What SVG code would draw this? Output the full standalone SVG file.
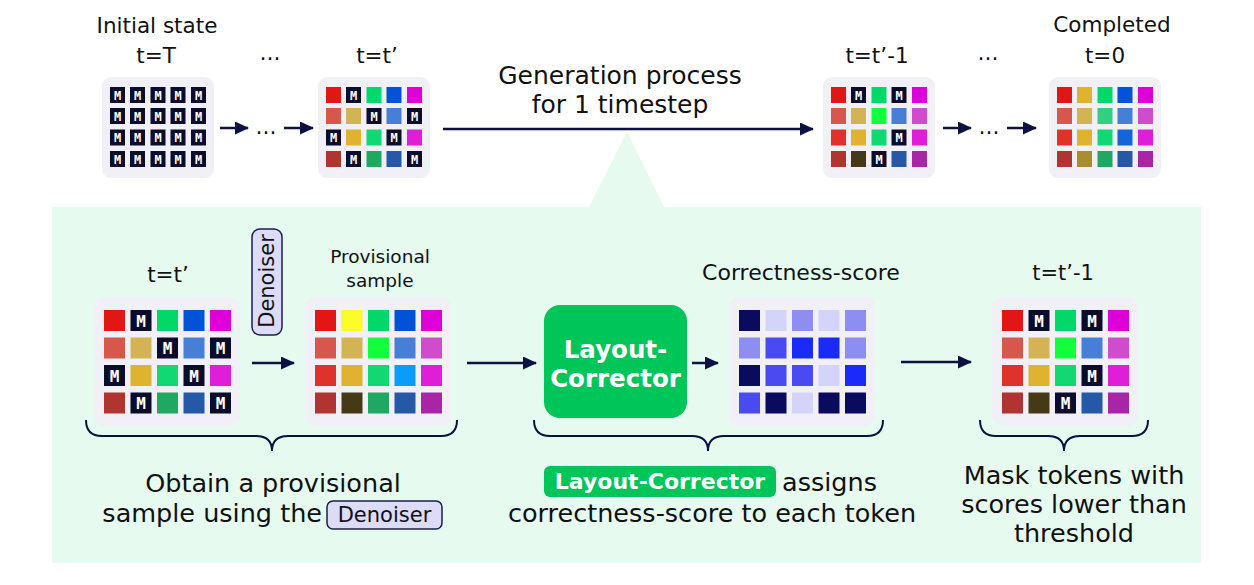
<svg xmlns="http://www.w3.org/2000/svg" width="1254" height="585" viewBox="0 0 1254 585">
<defs>
<marker id="ah" markerUnits="userSpaceOnUse" markerWidth="14" markerHeight="13" viewBox="0 0 14 13" refX="13" refY="6.5" orient="auto">
<path d="M0,0 L14,6.5 L0,13 z" fill="#0d1140"/>
</marker>
<style>
.t{font-family:"DejaVu Sans","Liberation Sans",sans-serif;fill:#111}
.tb{font-family:"DejaVu Sans","Liberation Sans",sans-serif;font-weight:bold;fill:#fff;text-anchor:middle}
.card{fill:#f0f0f6}
.k{fill:#0b0b2b}
.mt{font-family:"DejaVu Sans Mono","Liberation Mono",monospace;font-weight:bold;font-size:12px;fill:#fff;text-anchor:middle}
.mb{font-family:"DejaVu Sans Mono","Liberation Mono",monospace;font-weight:bold;font-size:16px;fill:#fff;text-anchor:middle}
.a1{fill:#e31616}.a2{fill:#e0b22e}.a3{fill:#00d86a}.a4{fill:#0052d6}.a5{fill:#de00d8}
.b1{fill:#d6574b}.b2{fill:#d4b355}.b3{fill:#33cf80}.b3x{fill:#12ff3c}.b4{fill:#477ed6}.b5{fill:#d04ccc}
.c1{fill:#df322a}.c2{fill:#dfb330}.c3{fill:#12d873}.c4{fill:#1565d8}.c4x{fill:#0a9cf8}.c5{fill:#df1fd8}
.d1{fill:#b03430}.d2{fill:#a88e30}.d2x{fill:#463a16}.d3{fill:#1fa862}.d4{fill:#2558a6}.d5{fill:#a826a6}
.yl{fill:#fcfc2a}
.s0{fill:#0a0a5e}.s1{fill:#d4d4fa}.s2{fill:#8e8ef2}.s3{fill:#4a4af2}.s4{fill:#1a2af8}
.ln{stroke:#0d1140;stroke-width:2.5;fill:none}
.br{stroke:#0d1140;stroke-width:2;fill:none}
.d{font-size:25.5px}
</style>
</defs>
<rect width="1254" height="585" fill="#fff"/>

<!-- green panel -->
<g id="panel">
<rect x="52" y="207" width="1149" height="356" fill="#e6faf0"/>
<polygon points="627,132 589,207 664,207" fill="#e6faf0"/>
</g>

<!-- top labels -->
<g id="top-labels">
<text class="t" x="157" y="33" font-size="21.5" text-anchor="middle">Initial state</text>
<text class="t" x="156" y="63" font-size="21.5" text-anchor="middle">t=T</text>
<text class="t" x="270" y="60" font-size="21" text-anchor="middle">…</text>
<text class="t" x="377" y="63" font-size="21.5" text-anchor="middle">t=t’</text>
<text class="t" x="620" y="84" font-size="25" text-anchor="middle">Generation process</text>
<text class="t" x="620" y="113" font-size="25" text-anchor="middle">for 1 timestep</text>
<text class="t" x="877" y="63" font-size="21.5" text-anchor="middle">t=t’-1</text>
<text class="t" x="988" y="60" font-size="21" text-anchor="middle">…</text>
<text class="t" x="1112" y="32" font-size="21.5" text-anchor="middle">Completed</text>
<text class="t" x="1105" y="63" font-size="21.5" text-anchor="middle">t=0</text>
</g>

<!-- top grid: initial state -->
<g id="grid-initial" transform="translate(102,77)">
<rect class="card" width="112" height="101" rx="9"/>
<rect class="k" x="8" y="10" width="15" height="16"/><text class="mt" x="15.5" y="22.5">M</text>
<rect class="k" x="28" y="10" width="15" height="16"/><text class="mt" x="35.5" y="22.5">M</text>
<rect class="k" x="48.5" y="10" width="15" height="16"/><text class="mt" x="56" y="22.5">M</text>
<rect class="k" x="68.5" y="10" width="15" height="16"/><text class="mt" x="76" y="22.5">M</text>
<rect class="k" x="89" y="10" width="15" height="16"/><text class="mt" x="96.5" y="22.5">M</text>
<rect class="k" x="8" y="31" width="15" height="16"/><text class="mt" x="15.5" y="43.5">M</text>
<rect class="k" x="28" y="31" width="15" height="16"/><text class="mt" x="35.5" y="43.5">M</text>
<rect class="k" x="48.5" y="31" width="15" height="16"/><text class="mt" x="56" y="43.5">M</text>
<rect class="k" x="68.5" y="31" width="15" height="16"/><text class="mt" x="76" y="43.5">M</text>
<rect class="k" x="89" y="31" width="15" height="16"/><text class="mt" x="96.5" y="43.5">M</text>
<rect class="k" x="8" y="52.5" width="15" height="16"/><text class="mt" x="15.5" y="65">M</text>
<rect class="k" x="28" y="52.5" width="15" height="16"/><text class="mt" x="35.5" y="65">M</text>
<rect class="k" x="48.5" y="52.5" width="15" height="16"/><text class="mt" x="56" y="65">M</text>
<rect class="k" x="68.5" y="52.5" width="15" height="16"/><text class="mt" x="76" y="65">M</text>
<rect class="k" x="89" y="52.5" width="15" height="16"/><text class="mt" x="96.5" y="65">M</text>
<rect class="k" x="8" y="74" width="15" height="16"/><text class="mt" x="15.5" y="86.5">M</text>
<rect class="k" x="28" y="74" width="15" height="16"/><text class="mt" x="35.5" y="86.5">M</text>
<rect class="k" x="48.5" y="74" width="15" height="16"/><text class="mt" x="56" y="86.5">M</text>
<rect class="k" x="68.5" y="74" width="15" height="16"/><text class="mt" x="76" y="86.5">M</text>
<rect class="k" x="89" y="74" width="15" height="16"/><text class="mt" x="96.5" y="86.5">M</text>
</g>

<!-- top grid: t=t' -->
<g id="grid-top-tprime" transform="translate(318,77)">
<rect class="card" width="112" height="101" rx="9"/>
<rect class="a1" x="8" y="10" width="15" height="16"/>
<rect class="k" x="28" y="10" width="15" height="16"/><text class="mt" x="35.5" y="22.5">M</text>
<rect class="a3" x="48.5" y="10" width="15" height="16"/>
<rect class="a4" x="68.5" y="10" width="15" height="16"/>
<rect class="a5" x="89" y="10" width="15" height="16"/>
<rect class="b1" x="8" y="31" width="15" height="16"/>
<rect class="b2" x="28" y="31" width="15" height="16"/>
<rect class="k" x="48.5" y="31" width="15" height="16"/><text class="mt" x="56" y="43.5">M</text>
<rect class="b4" x="68.5" y="31" width="15" height="16"/>
<rect class="k" x="89" y="31" width="15" height="16"/><text class="mt" x="96.5" y="43.5">M</text>
<rect class="k" x="8" y="52.5" width="15" height="16"/><text class="mt" x="15.5" y="65">M</text>
<rect class="c2" x="28" y="52.5" width="15" height="16"/>
<rect class="c3" x="48.5" y="52.5" width="15" height="16"/>
<rect class="k" x="68.5" y="52.5" width="15" height="16"/><text class="mt" x="76" y="65">M</text>
<rect class="c5" x="89" y="52.5" width="15" height="16"/>
<rect class="d1" x="8" y="74" width="15" height="16"/>
<rect class="k" x="28" y="74" width="15" height="16"/><text class="mt" x="35.5" y="86.5">M</text>
<rect class="d3" x="48.5" y="74" width="15" height="16"/>
<rect class="d4" x="68.5" y="74" width="15" height="16"/>
<rect class="k" x="89" y="74" width="15" height="16"/><text class="mt" x="96.5" y="86.5">M</text>
</g>

<!-- top grid: t=t'-1 -->
<g id="grid-top-tprime-1" transform="translate(823,77)">
<rect class="card" width="112" height="101" rx="9"/>
<rect class="a1" x="8" y="10" width="15" height="16"/>
<rect class="k" x="28" y="10" width="15" height="16"/><text class="mt" x="35.5" y="22.5">M</text>
<rect class="a3" x="48.5" y="10" width="15" height="16"/>
<rect class="k" x="68.5" y="10" width="15" height="16"/><text class="mt" x="76" y="22.5">M</text>
<rect class="a5" x="89" y="10" width="15" height="16"/>
<rect class="b1" x="8" y="31" width="15" height="16"/>
<rect class="b2" x="28" y="31" width="15" height="16"/>
<rect class="b3x" x="48.5" y="31" width="15" height="16"/>
<rect class="b4" x="68.5" y="31" width="15" height="16"/>
<rect class="b5" x="89" y="31" width="15" height="16"/>
<rect class="c1" x="8" y="52.5" width="15" height="16"/>
<rect class="c2" x="28" y="52.5" width="15" height="16"/>
<rect class="c3" x="48.5" y="52.5" width="15" height="16"/>
<rect class="k" x="68.5" y="52.5" width="15" height="16"/><text class="mt" x="76" y="65">M</text>
<rect class="c5" x="89" y="52.5" width="15" height="16"/>
<rect class="d1" x="8" y="74" width="15" height="16"/>
<rect class="d2x" x="28" y="74" width="15" height="16"/>
<rect class="k" x="48.5" y="74" width="15" height="16"/><text class="mt" x="56" y="86.5">M</text>
<rect class="d4" x="68.5" y="74" width="15" height="16"/>
<rect class="d5" x="89" y="74" width="15" height="16"/>
</g>

<!-- top grid: completed -->
<g id="grid-completed" transform="translate(1049,77)">
<rect class="card" width="112" height="101" rx="9"/>
<rect class="a1" x="8" y="10" width="15" height="16"/>
<rect class="a2" x="28" y="10" width="15" height="16"/>
<rect class="a3" x="48.5" y="10" width="15" height="16"/>
<rect class="a4" x="68.5" y="10" width="15" height="16"/>
<rect class="a5" x="89" y="10" width="15" height="16"/>
<rect class="b1" x="8" y="31" width="15" height="16"/>
<rect class="b2" x="28" y="31" width="15" height="16"/>
<rect class="b3" x="48.5" y="31" width="15" height="16"/>
<rect class="b4" x="68.5" y="31" width="15" height="16"/>
<rect class="b5" x="89" y="31" width="15" height="16"/>
<rect class="c1" x="8" y="52.5" width="15" height="16"/>
<rect class="c2" x="28" y="52.5" width="15" height="16"/>
<rect class="c3" x="48.5" y="52.5" width="15" height="16"/>
<rect class="c4" x="68.5" y="52.5" width="15" height="16"/>
<rect class="c5" x="89" y="52.5" width="15" height="16"/>
<rect class="d1" x="8" y="74" width="15" height="16"/>
<rect class="d2" x="28" y="74" width="15" height="16"/>
<rect class="d3" x="48.5" y="74" width="15" height="16"/>
<rect class="d4" x="68.5" y="74" width="15" height="16"/>
<rect class="d5" x="89" y="74" width="15" height="16"/>
</g>

<!-- bottom labels -->
<g id="bottom-labels">
<text class="t" x="168" y="282" font-size="21.5" text-anchor="middle">t=t’</text>
<text class="t" x="380" y="263" font-size="18.5" text-anchor="middle">Provisional</text>
<text class="t" x="380" y="287" font-size="18.5" text-anchor="middle">sample</text>
<text class="t" x="801" y="280" font-size="22" text-anchor="middle">Correctness-score</text>
<text class="t" x="1063" y="280" font-size="21" text-anchor="middle">t=t’-1</text>
</g>

<!-- denoiser tag -->
<g id="denoiser-tag">
<rect x="252" y="229" width="30" height="106" rx="8" fill="#dcdcf8" stroke="#1a1f4a" stroke-width="1.5"/>
<text class="t" transform="translate(267,281) rotate(-90)" font-size="21" text-anchor="middle" dominant-baseline="central">Denoiser</text>
</g>

<!-- bottom grid: t=t' -->
<g id="grid-bottom-tprime" transform="translate(94,297)">
<rect class="card" width="146" height="129" rx="10"/>
<rect class="a1" x="10" y="13" width="21" height="21"/>
<rect class="k" x="36.5" y="13" width="21" height="21"/><text class="mb" x="47" y="29.5">M</text>
<rect class="a3" x="63" y="13" width="21" height="21"/>
<rect class="a4" x="89.5" y="13" width="21" height="21"/>
<rect class="a5" x="116" y="13" width="21" height="21"/>
<rect class="b1" x="10" y="40.5" width="21" height="21"/>
<rect class="b2" x="36.5" y="40.5" width="21" height="21"/>
<rect class="k" x="63" y="40.5" width="21" height="21"/><text class="mb" x="73.5" y="57">M</text>
<rect class="b4" x="89.5" y="40.5" width="21" height="21"/>
<rect class="k" x="116" y="40.5" width="21" height="21"/><text class="mb" x="126.5" y="57">M</text>
<rect class="k" x="10" y="68" width="21" height="21"/><text class="mb" x="20.5" y="84.5">M</text>
<rect class="c2" x="36.5" y="68" width="21" height="21"/>
<rect class="c3" x="63" y="68" width="21" height="21"/>
<rect class="k" x="89.5" y="68" width="21" height="21"/><text class="mb" x="100" y="84.5">M</text>
<rect class="c5" x="116" y="68" width="21" height="21"/>
<rect class="d1" x="10" y="95.5" width="21" height="21"/>
<rect class="k" x="36.5" y="95.5" width="21" height="21"/><text class="mb" x="47" y="112">M</text>
<rect class="d3" x="63" y="95.5" width="21" height="21"/>
<rect class="d4" x="89.5" y="95.5" width="21" height="21"/>
<rect class="k" x="116" y="95.5" width="21" height="21"/><text class="mb" x="126.5" y="112">M</text>
</g>

<!-- bottom grid: provisional sample -->
<g id="grid-provisional" transform="translate(305,297)">
<rect class="card" width="146" height="129" rx="10"/>
<rect class="a1" x="10" y="13" width="21" height="21"/>
<rect class="yl" x="36.5" y="13" width="21" height="21"/>
<rect class="a3" x="63" y="13" width="21" height="21"/>
<rect class="a4" x="89.5" y="13" width="21" height="21"/>
<rect class="a5" x="116" y="13" width="21" height="21"/>
<rect class="b1" x="10" y="40.5" width="21" height="21"/>
<rect class="b2" x="36.5" y="40.5" width="21" height="21"/>
<rect class="b3x" x="63" y="40.5" width="21" height="21"/>
<rect class="b4" x="89.5" y="40.5" width="21" height="21"/>
<rect class="b5" x="116" y="40.5" width="21" height="21"/>
<rect class="c1" x="10" y="68" width="21" height="21"/>
<rect class="c2" x="36.5" y="68" width="21" height="21"/>
<rect class="c3" x="63" y="68" width="21" height="21"/>
<rect class="c4x" x="89.5" y="68" width="21" height="21"/>
<rect class="c5" x="116" y="68" width="21" height="21"/>
<rect class="d1" x="10" y="95.5" width="21" height="21"/>
<rect class="d2x" x="36.5" y="95.5" width="21" height="21"/>
<rect class="d3" x="63" y="95.5" width="21" height="21"/>
<rect class="d4" x="89.5" y="95.5" width="21" height="21"/>
<rect class="d5" x="116" y="95.5" width="21" height="21"/>
</g>

<!-- layout corrector -->
<g id="layout-corrector">
<rect x="544" y="305" width="143" height="113" rx="16" fill="#00c65a"/>
<text class="tb" x="615.5" y="358" font-size="24.5">Layout-</text>
<text class="tb" x="615.5" y="387" font-size="24.5">Corrector</text>
</g>

<!-- score grid -->
<g id="grid-score" transform="translate(729,297)">
<rect class="card" width="146" height="129" rx="10"/>
<rect class="s0" x="10" y="13" width="21" height="21"/>
<rect class="s1" x="36.5" y="13" width="21" height="21"/>
<rect class="s2" x="63" y="13" width="21" height="21"/>
<rect class="s1" x="89.5" y="13" width="21" height="21"/>
<rect class="s2" x="116" y="13" width="21" height="21"/>
<rect class="s2" x="10" y="40.5" width="21" height="21"/>
<rect class="s3" x="36.5" y="40.5" width="21" height="21"/>
<rect class="s4" x="63" y="40.5" width="21" height="21"/>
<rect class="s4" x="89.5" y="40.5" width="21" height="21"/>
<rect class="s2" x="116" y="40.5" width="21" height="21"/>
<rect class="s0" x="10" y="68" width="21" height="21"/>
<rect class="s3" x="36.5" y="68" width="21" height="21"/>
<rect class="s3" x="63" y="68" width="21" height="21"/>
<rect class="s1" x="89.5" y="68" width="21" height="21"/>
<rect class="s4" x="116" y="68" width="21" height="21"/>
<rect class="s3" x="10" y="95.5" width="21" height="21"/>
<rect class="s0" x="36.5" y="95.5" width="21" height="21"/>
<rect class="s1" x="63" y="95.5" width="21" height="21"/>
<rect class="s0" x="89.5" y="95.5" width="21" height="21"/>
<rect class="s0" x="116" y="95.5" width="21" height="21"/>
</g>

<!-- bottom grid: t=t'-1 -->
<g id="grid-bottom-tprime-1" transform="translate(992,297)">
<rect class="card" width="146" height="129" rx="10"/>
<rect class="a1" x="10" y="13" width="21" height="21"/>
<rect class="k" x="36.5" y="13" width="21" height="21"/><text class="mb" x="47" y="29.5">M</text>
<rect class="a3" x="63" y="13" width="21" height="21"/>
<rect class="k" x="89.5" y="13" width="21" height="21"/><text class="mb" x="100" y="29.5">M</text>
<rect class="a5" x="116" y="13" width="21" height="21"/>
<rect class="b1" x="10" y="40.5" width="21" height="21"/>
<rect class="b2" x="36.5" y="40.5" width="21" height="21"/>
<rect class="b3x" x="63" y="40.5" width="21" height="21"/>
<rect class="b4" x="89.5" y="40.5" width="21" height="21"/>
<rect class="b5" x="116" y="40.5" width="21" height="21"/>
<rect class="c1" x="10" y="68" width="21" height="21"/>
<rect class="c2" x="36.5" y="68" width="21" height="21"/>
<rect class="c3" x="63" y="68" width="21" height="21"/>
<rect class="k" x="89.5" y="68" width="21" height="21"/><text class="mb" x="100" y="84.5">M</text>
<rect class="c5" x="116" y="68" width="21" height="21"/>
<rect class="d1" x="10" y="95.5" width="21" height="21"/>
<rect class="d2x" x="36.5" y="95.5" width="21" height="21"/>
<rect class="k" x="63" y="95.5" width="21" height="21"/><text class="mb" x="73.5" y="112">M</text>
<rect class="d4" x="89.5" y="95.5" width="21" height="21"/>
<rect class="d5" x="116" y="95.5" width="21" height="21"/>
</g>

<!-- connectors -->
<g id="connectors">
<line class="ln" x1="220" y1="128" x2="248" y2="128" marker-end="url(#ah)"/>
<text class="t" x="266" y="134" font-size="21" text-anchor="middle">…</text>
<line class="ln" x1="284" y1="128" x2="313" y2="128" marker-end="url(#ah)"/>
<line class="ln" x1="443" y1="129" x2="813" y2="129" marker-end="url(#ah)"/>
<line class="ln" x1="943" y1="128" x2="971" y2="128" marker-end="url(#ah)"/>
<text class="t" x="989" y="134" font-size="21" text-anchor="middle">…</text>
<line class="ln" x1="1007" y1="128" x2="1036" y2="128" marker-end="url(#ah)"/>
<line class="ln" x1="252" y1="363" x2="294" y2="363" marker-end="url(#ah)"/>
<line class="ln" x1="467" y1="363" x2="536" y2="363" marker-end="url(#ah)"/>
<line class="ln" x1="692" y1="363" x2="718" y2="363" marker-end="url(#ah)"/>
<line class="ln" x1="901" y1="362" x2="971" y2="362" marker-end="url(#ah)"/>
<path class="br" d="M86,420 Q86,436 102,436 H256 Q272,436 272,451 Q272,436 288,436 H441 Q457,436 457,420"/>
<path class="br" d="M534,420 Q534,436 550,436 H692 Q708,436 708,451 Q708,436 724,436 H867 Q883,436 883,420"/>
<path class="br" d="M980,420 Q980,436 996,436 H1048 Q1064,436 1064,451 Q1064,436 1080,436 H1132 Q1148,436 1148,420"/>
</g>

<!-- descriptions -->
<g id="desc-left">
<text class="t d" x="273" y="492" text-anchor="middle">Obtain a provisional</text>
<text class="t d" x="322" y="522" text-anchor="end">sample using the</text>
<rect x="327" y="501" width="115" height="28" rx="6" fill="#dcdcf8" stroke="#1a1f4a" stroke-width="1.5"/>
<text class="t" x="384.5" y="522" font-size="21" text-anchor="middle">Denoiser</text>
</g>
<g id="desc-mid">
<rect x="544" y="466" width="232" height="31" rx="6" fill="#00c65a"/>
<text class="tb" x="660" y="489" font-size="22">Layout-Corrector</text>
<text class="t d" x="782" y="491">assigns</text>
<text class="t d" x="712" y="522" text-anchor="middle">correctness-score to each token</text>
</g>
<g id="desc-right">
<text class="t d" x="1074" y="484" text-anchor="middle">Mask tokens with</text>
<text class="t d" x="1074" y="513" text-anchor="middle">scores lower than</text>
<text class="t d" x="1074" y="542" text-anchor="middle">threshold</text>
</g>
</svg>
